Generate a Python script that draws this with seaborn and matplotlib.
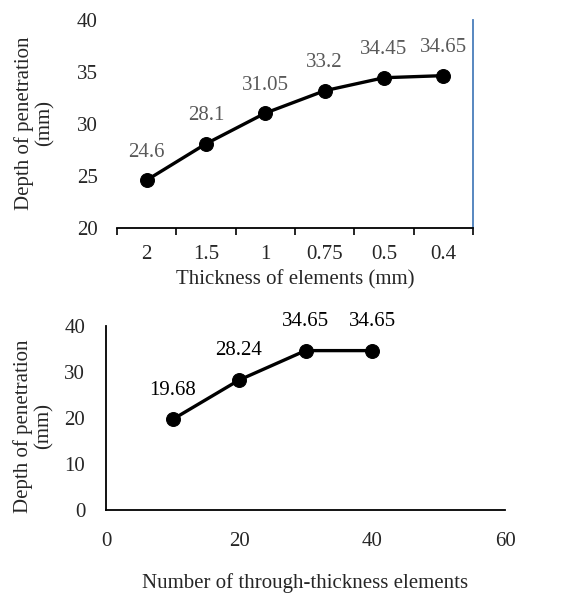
import matplotlib
matplotlib.use("Agg")
import matplotlib.pyplot as plt
import seaborn as sns
import pandas as pd
import numpy as np
from matplotlib.ticker import FixedLocator

sns.set_style("white")
plt.rcParams['font.family'] = ['Liberation Serif', 'DejaVu Serif']

# Data
thickness_labels = ["2", "1.5", "1", "0.75", "0.5", "0.4"]
depth_thickness = [24.6, 28.1, 31.05, 33.2, 34.45, 34.65]
n_elements = [10, 20, 30, 40]
depth_elements = [19.68, 28.24, 34.65, 34.65]
top_yticks = [20, 25, 30, 35, 40]
bottom_yticks = [0, 10, 20, 30, 40]
bottom_xticks = [0, 20, 40, 60]

FS = 15
W, H = 578, 594
fig = plt.figure(figsize=(W / 100, H / 100), dpi=100)

# ---- Top chart ----
ax1 = fig.add_axes([117 / W, 1 - 228 / H, (473 - 117) / W, (228 - 20) / H])
df1 = pd.DataFrame({"pos": np.arange(len(thickness_labels)), "depth": depth_thickness})
sns.lineplot(data=df1, x="pos", y="depth", ax=ax1, color="black", linewidth=2.4,
             marker="o", markersize=10, markeredgecolor="black")
ax1.set_xlim(-0.5, len(thickness_labels) - 0.5)
ax1.set_ylim(20, 40)
ax1.set_yticks(top_yticks)
ax1.set_yticklabels([str(v) for v in top_yticks], fontsize=FS)
ax1.xaxis.set_major_locator(FixedLocator(df1["pos"].tolist()))
ax1.set_xticklabels(thickness_labels, fontsize=FS)
ax1.xaxis.set_minor_locator(FixedLocator(list(np.arange(-0.5, len(thickness_labels), 1.0))))
ax1.tick_params(axis="x", which="major", length=0, pad=12)
ax1.tick_params(axis="x", which="minor", length=5, width=1.2, color="black", direction="out", bottom=True)
ax1.tick_params(axis="y", length=0, pad=14)
for s in ["top", "left"]:
    ax1.spines[s].set_visible(False)
ax1.spines["bottom"].set_color("black")
ax1.spines["bottom"].set_linewidth(1.3)
ax1.spines["right"].set_color("#4a7ebb")
ax1.spines["right"].set_linewidth(1.3)
ax1.set_xlabel("Thickness of elements (mm)", fontsize=FS)
ax1.xaxis.set_label_coords(0.5, -0.25)
ax1.xaxis.label.set_va("center")
ax1.set_ylabel("Depth of penetration\n(mm)", fontsize=FS, linespacing=1.1)
ax1.yaxis.set_label_coords(-0.233, 0.505)
ax1.yaxis.label.set_va("center")
for x, y in zip(df1["pos"], df1["depth"]):
    ax1.annotate(f"{y:g}", (x, y), xytext=(0, 20), textcoords="offset points",
                 ha="center", va="center", fontsize=FS, color="#595959")

# ---- Bottom chart ----
ax2 = fig.add_axes([106 / W, 1 - 510 / H, (505 - 106) / W, (510 - 326) / H])
df2 = pd.DataFrame({"n": n_elements, "depth": depth_elements})
sns.lineplot(data=df2, x="n", y="depth", ax=ax2, color="black", linewidth=2.4,
             marker="o", markersize=10, markeredgecolor="black")
ax2.set_xlim(0, 60)
ax2.set_ylim(0, 40)
ax2.set_xticks(bottom_xticks)
ax2.set_xticklabels([str(v) for v in bottom_xticks], fontsize=FS)
ax2.set_yticks(bottom_yticks)
ax2.set_yticklabels([str(v) for v in bottom_yticks], fontsize=FS)
ax2.tick_params(axis="x", length=0, pad=16)
ax2.tick_params(axis="y", length=0, pad=15)
for s in ["top", "right"]:
    ax2.spines[s].set_visible(False)
for s in ["left", "bottom"]:
    ax2.spines[s].set_color("black")
    ax2.spines[s].set_linewidth(1.3)
ax2.set_xlabel("Number of through-thickness elements", fontsize=FS)
ax2.xaxis.set_label_coords(0.5, -0.397)
ax2.xaxis.label.set_va("center")
ax2.set_ylabel("Depth of penetration\n(mm)", fontsize=FS, linespacing=1.1)
ax2.yaxis.set_label_coords(-0.183, 0.457)
ax2.yaxis.label.set_va("center")
for x, y in zip(df2["n"], df2["depth"]):
    ax2.annotate(f"{y:g}", (x, y), xytext=(0, 21), textcoords="offset points",
                 ha="center", va="center", fontsize=FS, color="black")

fig.savefig("out.png", dpi=100, facecolor="white")
